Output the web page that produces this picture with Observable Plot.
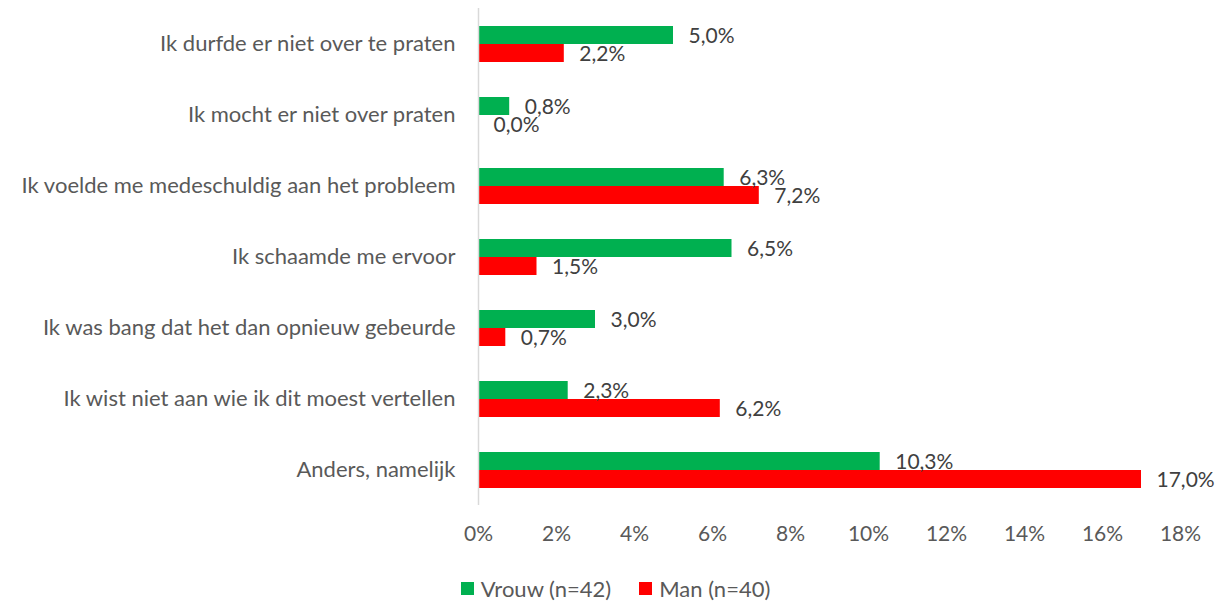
<!DOCTYPE html>
<html><head><meta charset="utf-8">
<script src="https://cdn.jsdelivr.net/npm/d3@7"></script>
<script src="https://cdn.jsdelivr.net/npm/@observablehq/plot@0.6"></script>
<style>
body{margin:0;background:#fff;font-family:Lato, sans-serif}
#chart svg{display:block}
#legend{display:flex;justify-content:center;align-items:center;gap:28px;margin-top:15px;font-size:22px;color:#595959;font-family:Lato, sans-serif;padding-left:14px}
#legend .item{display:flex;align-items:center;gap:7px}
#legend .sw{width:13px;height:13px;display:inline-block}
</style></head><body><div id="chart"></div><div id="legend"></div><script>
const categories = [
  "Ik durfde er niet over te praten",
  "Ik mocht er niet over praten",
  "Ik voelde me medeschuldig aan het probleem",
  "Ik schaamde me ervoor",
  "Ik was bang dat het dan opnieuw gebeurde",
  "Ik wist niet aan wie ik dit moest vertellen",
  "Anders, namelijk"
];
const series = ["Vrouw (n=42)", "Man (n=40)"];
const vrouw = [5.0, 0.8, 6.3, 6.5, 3.0, 2.3, 10.3];
const man = [2.2, 0.0, 7.2, 1.5, 0.7, 6.2, 17.0];
const colors = ["#00B050", "#FF0000"];
const xTicks = [0, 2, 4, 6, 8, 10, 12, 14, 16, 18];

const data = categories.flatMap((c, i) => [
  {category: c, series: series[0], value: vrouw[i]},
  {category: c, series: series[1], value: man[i]}
]);
const fmt = v => d3.format(".1f")(v).replace(".", ",") + "%";

const chart = Plot.plot({
  width: 1217, height: 560,
  marginLeft: 478, marginRight: 37, marginTop: 8, marginBottom: 55,
  style: {fontFamily: "Lato, sans-serif", fontSize: "21px", color: "#595959", background: "#fff"},
  x: {domain: [0, 18], ticks: xTicks, tickFormat: d => d + "%", label: null, axis: null},
  fy: {domain: categories, padding: 0, label: null, axis: null},
  y: {domain: series, axis: null, paddingInner: 0, paddingOuter: 0.97},
  color: {domain: series, range: colors},
  marks: [
    Plot.barX(data, {fy: "category", y: "series", x: "value", fill: "series"}),
    Plot.ruleX([0], {stroke: "#d9d9d9", strokeWidth: 1.5}),
    Plot.axisX(xTicks, {tickSize: 0, tickPadding: 21, fontSize: 21, fill: "#595959", label: null, tickFormat: d => d + "%"}),
    Plot.axisFy({anchor: "left", tickSize: 0, tickPadding: 23, fontSize: 22, fill: "#595959", label: null}),
    Plot.text(data, {fy: "category", y: "series", x: "value", text: d => fmt(d.value), dx: 15, dy: 1, textAnchor: "start", fill: "#404040", fontSize: 21})
  ]
});
document.getElementById("chart").appendChild(chart);

const legend = document.getElementById("legend");
series.forEach((s, i) => {
  const item = document.createElement("div");
  item.className = "item";
  const sw = document.createElement("span");
  sw.className = "sw";
  sw.style.background = colors[i];
  const t = document.createElement("span");
  t.textContent = s;
  item.appendChild(sw); item.appendChild(t);
  legend.appendChild(item);
});
</script></body></html>
